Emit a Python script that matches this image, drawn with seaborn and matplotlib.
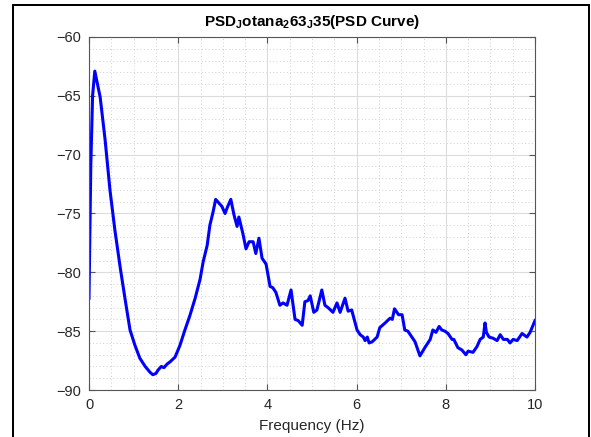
import matplotlib
matplotlib.use("Agg")
import matplotlib.pyplot as plt
from matplotlib.lines import Line2D
from matplotlib.ticker import MultipleLocator
import seaborn as sns
import pandas as pd

freq = [0.00, 0.04, 0.08, 0.13, 0.18, 0.25, 0.36, 0.47, 0.58, 0.70, 0.81, 0.92,
        1.03, 1.14, 1.26, 1.37, 1.43, 1.50, 1.55, 1.62, 1.68, 1.75, 1.82, 1.93,
        2.04, 2.15, 2.26, 2.38, 2.49, 2.56, 2.65, 2.71, 2.78, 2.84, 2.91, 2.98,
        3.05, 3.11, 3.18, 3.25, 3.32, 3.36, 3.45, 3.52, 3.59, 3.68, 3.74, 3.81,
        3.88, 3.97, 4.06, 4.12, 4.19, 4.28, 4.35, 4.44, 4.53, 4.62, 4.69, 4.78,
        4.84, 4.91, 4.96, 5.04, 5.11, 5.22, 5.29, 5.36, 5.47, 5.56, 5.63, 5.74,
        5.81, 5.89, 6.01, 6.08, 6.15, 6.19, 6.24, 6.28, 6.35, 6.46, 6.52, 6.64,
        6.75, 6.80, 6.85, 6.94, 7.02, 7.08, 7.15, 7.24, 7.31, 7.42, 7.53, 7.65,
        7.71, 7.78, 7.85, 7.91, 7.98, 8.05, 8.14, 8.18, 8.27, 8.36, 8.45, 8.50,
        8.61, 8.70, 8.77, 8.84, 8.86, 8.88, 8.91, 8.97, 9.06, 9.15, 9.22, 9.29,
        9.38, 9.44, 9.51, 9.60, 9.71, 9.82, 9.89, 10.0]
psd = [-82.2, -71.0, -65.0, -62.9, -63.8, -65.1, -68.7, -73.0, -76.4, -79.6, -82.3, -84.9,
       -86.2, -87.3, -88.0, -88.5, -88.7, -88.6, -88.3, -88.0, -88.1, -87.8, -87.6, -87.2,
       -86.2, -84.9, -83.7, -82.2, -80.6, -79.1, -77.7, -76.0, -74.9, -73.8, -74.1, -74.4,
       -75.0, -74.4, -73.8, -75.1, -76.1, -75.3, -76.7, -78.0, -77.4, -77.4, -78.4, -77.1,
       -78.8, -79.3, -81.2, -81.3, -81.7, -82.8, -82.6, -82.8, -81.5, -84.0, -84.1, -84.5,
       -82.5, -82.4, -82.0, -83.4, -83.2, -81.5, -82.8, -83.0, -83.4, -82.6, -83.4, -82.2,
       -83.3, -83.2, -84.9, -85.3, -85.5, -85.8, -85.5, -86.0, -85.9, -85.5, -84.7, -84.3,
       -83.9, -84.0, -83.1, -83.6, -83.6, -84.9, -85.0, -85.5, -85.9, -87.1, -86.4, -85.7,
       -84.9, -85.1, -84.6, -84.9, -85.0, -85.2, -85.7, -85.7, -86.4, -86.6, -87.0, -86.7,
       -86.8, -86.3, -85.7, -85.5, -84.9, -84.3, -85.1, -85.5, -85.6, -85.8, -85.3, -85.7,
       -85.7, -86.0, -85.7, -85.8, -85.2, -85.5, -85.1, -84.1]
xticks = [0, 2, 4, 6, 8, 10]
yticks = [-90, -85, -80, -75, -70, -65, -60]

plt.rcParams['font.family'] = ['Liberation Sans', 'DejaVu Sans']
plt.rcParams['mathtext.fontset'] = 'custom'
plt.rcParams['mathtext.bf'] = 'Liberation Sans:bold'
plt.rcParams['mathtext.rm'] = 'Liberation Sans'

df = pd.DataFrame({'f': freq, 'p': psd})
fig = plt.figure(figsize=(5.91, 4.37), dpi=100)
ax = fig.add_axes([89/591, 1-390/437, (535-89)/591, (390-37)/437])
sns.lineplot(data=df, x='f', y='p', ax=ax, color='#0000FF', lw=2.2, estimator=None, sort=False)
ax.set_xlim(0, 10)
ax.set_ylim(-90, -60)
ax.set_xticks(xticks)
ax.set_yticks(yticks)
ax.xaxis.set_minor_locator(MultipleLocator(0.5))
ax.yaxis.set_minor_locator(MultipleLocator(1))
ax.grid(which='major', color='#dcdcdc', lw=0.8)
ax.grid(which='minor', color='#d0d0d0', lw=0.7, ls=(0, (1, 2.5)))
ax.set_axisbelow(True)
gc = '#262626'
for s in ax.spines.values():
    s.set_color('#555555')
    s.set_linewidth(0.8)
ax.tick_params(which='both', direction='in', top=True, right=True, colors='#555555',
               labelcolor=gc, labelsize=10.5)
ax.tick_params(which='major', length=4, pad=6)
ax.tick_params(which='minor', length=0)
ax.set_xlabel('Frequency (Hz)', fontsize=11, color=gc, labelpad=5)
ax.set_ylabel('')
ax.set_title(r'PSD$_\mathbf{J}$otana$_\mathbf{2}$63$_\mathbf{J}$35(PSD Curve)',
             fontsize=11, fontweight='bold', color='black', pad=8)

W, H = 591, 437
lw = 2 * 72 / 100
fig.add_artist(Line2D([12.5/W, 12.5/W], [0, 1-4.5/H], color='black', lw=lw))
fig.add_artist(Line2D([12.5/W, 589/W], [1-4.5/H, 1-4.5/H], color='black', lw=lw))
fig.add_artist(Line2D([589/W, 589/W], [0, 1-4.5/H], color='black', lw=lw))

fig.savefig('out.png', dpi=100)
